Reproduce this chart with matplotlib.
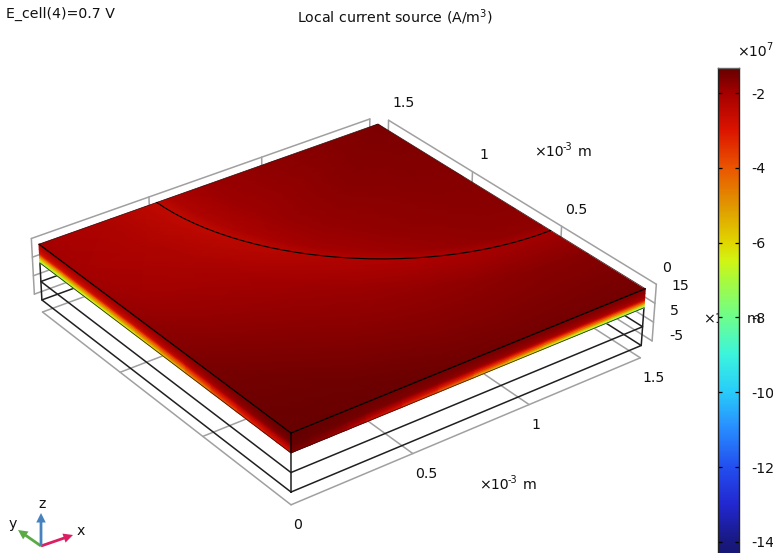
import numpy as np
import matplotlib
matplotlib.use('Agg')
import matplotlib.pyplot as plt
from matplotlib.colors import LinearSegmentedColormap, Normalize
from matplotlib.patches import Polygon, FancyArrow

plt.rcParams['font.family'] = 'DejaVu Sans'
plt.rcParams['mathtext.default'] = 'regular'
plt.rcParams['axes.unicode_minus'] = False

# ---- data -------------------------------------------------------------
title = 'Local current source (A/m$^3$)'
state_label = 'E_cell(4)=0.7 V'
x_ticks = [0, 0.5, 1, 1.5]
y_ticks = [0, 0.5, 1, 1.5]
z_levels = [15, 5, -5, -15]
tick_names = ['0', '0.5', '1', '1.5']
z_tick_names = ['15', '5', '-5']
cbar_ticks = [-2, -4, -6, -8, -10, -12, -14]
vmax, vmin = -1.33, -15.0

# colormap anchors (value in 1e7 A/m^3)
cm_vals = [-15.0, -14, -13, -12, -11, -10, -9, -8, -7, -6.5, -6, -5, -4, -3, -2, -1.33]
cm_cols = ['#14145a', '#191982', '#2328d2', '#2350f0', '#288cff', '#28cdfa', '#3cf5dc', '#6eff8c',
           '#aafa3c', '#d2f514', '#e1d700', '#e19600', '#eb5500', '#dc1400', '#a50000', '#640000']

# top face: value read by distance from the far corner + by direction
radial_r = [0, 0.5, 0.8, 0.95, 1.0, 1.05, 1.2, 1.5, 1.8, 2.2]
radial_v = [-1.58, -1.72, -1.82, -1.95, -2.2, -2.12, -1.9, -1.7, -1.45, -1.33]
radial_w = [0, 0.2, 0.4, 0.8, 1, 1, 1, 1, 1, 1]
angle_deg = [0, 10, 20, 30, 40, 50, 60, 70, 80, 90]
angle_dv = [-0.3, -0.3, -0.25, -0.15, -0.05, 0.0, 0.05, 0.12, 0.18, 0.2]

# side faces
edge_pos = [0, 0.075, 0.15, 0.225, 0.3, 0.45, 0.6, 0.75, 0.9, 1.05, 1.2, 1.35, 1.5]
left_top = [-1.35, -1.4, -1.45, -1.5, -1.55, -1.65, -1.75, -1.82, -1.9, -1.95, -2.0, -2.05, -2.1]
left_bottom = [-3.0, -3.1, -3.3, -3.5, -3.8, -4.6, -5.5, -6.2, -6.8, -7.1, -7.4, -7.6, -7.8]
right_top = [-1.33, -1.36, -1.4, -1.42, -1.45, -1.48, -1.5, -1.53, -1.55, -1.57, -1.6, -1.62, -1.65]
right_bottom = [-1.6, -1.7, -1.9, -2.2, -2.6, -3.4, -4.2, -5.3, -6.3, -7.0, -7.6, -7.9, -8.2]
depth_z = [15, 12.5, 10, 9, 8.3, 7.5, 6.5, 5.7, 5]
left_frac = [0, 0.05, 0.14, 0.28, 0.43, 0.56, 0.69, 0.85, 1]
right_frac = [0, 0.02, 0.07, 0.15, 0.28, 0.42, 0.6, 0.8, 1]

# ---- camera: (x, y, z) -> image pixels ---------------------------------
cal3d = [(0, 0, 15), (1.5, 0, 15), (1.5, 1.5, 15), (0, 1.5, 15),
         (0, 0, -15), (1.5, 0, -15), (0, 1.5, -15),
         (0, 0, 5), (1.5, 0, 5), (0, 1.5, 5)]
cal2d = [(291, 433), (646, 289), (378, 124), (39, 245),
         (291, 492), (641.5, 346), (42, 300),
         (291, 453), (643, 307), (39.7, 262)]
A = []
b = []
for (X, Y, Z), (u, v) in zip(cal3d, cal2d):
    A.append([X, Y, Z, 1, 0, 0, 0, 0, -u * X, -u * Y, -u * Z])
    A.append([0, 0, 0, 0, X, Y, Z, 1, -v * X, -v * Y, -v * Z])
    b += [u, v]
p = np.linalg.lstsq(np.array(A, float), np.array(b, float), rcond=None)[0]
P = np.append(p, 1).reshape(3, 4)


def proj(x, y, z):
    x, y, z = np.broadcast_arrays(np.asarray(x, float), np.asarray(y, float), np.asarray(z, float))
    w = P[2, 0] * x + P[2, 1] * y + P[2, 2] * z + P[2, 3]
    return ((P[0, 0] * x + P[0, 1] * y + P[0, 2] * z + P[0, 3]) / w,
            (P[1, 0] * x + P[1, 1] * y + P[1, 2] * z + P[1, 3]) / w)


fig = plt.figure(figsize=(7.73, 5.53), dpi=100)
ax = fig.add_axes([0, 0, 1, 1], zorder=1)
ax.set_xlim(0, 773)
ax.set_ylim(553, 0)
ax.axis('off')

cmap = LinearSegmentedColormap.from_list(
    'rb', [((v - vmin) / (vmax - vmin), c) for v, c in zip(cm_vals, cm_cols)], N=512)
norm = Normalize(vmin, vmax)


def line3(xs, ys, zs, **kw):
    u, v = proj(xs, ys, zs)
    ax.plot(u, v, solid_capstyle='round', **kw)


# ---- grey grid walls and floor -----------------------------------------
gap = 0.05
z_floor = -21.6
grey = dict(color='#a0a0a0', lw=1.1, zorder=1)
for t in x_ticks:
    line3([t, t], [1.5 + gap] * 2, [15, -15], **grey)
    line3([t, t], [0, 1.5], [z_floor] * 2, **grey)
for t in y_ticks:
    line3([1.5 + gap] * 2, [t, t], [15, -15], **grey)
    line3([0, 1.5], [t, t], [z_floor] * 2, **grey)
for z in z_levels:
    line3([0, 1.5], [1.5 + gap] * 2, [z, z], **grey)
    line3([1.5 + gap] * 2, [0, 1.5], [z, z], **grey)

# ---- black wire frame below the slab -----------------------------------
wire = dict(color='#202020', lw=1.1, zorder=2)
for z in z_levels[2:]:
    line3([0, 1.5, 1.5, 0, 0], [0, 0, 1.5, 1.5, 0], [z] * 5, **wire)
for cx, cy in [(0, 0), (1.5, 0), (0, 1.5)]:
    line3([cx, cx], [cy, cy], [5, -15], **wire)

# ---- slab faces ---------------------------------------------------------
rr, aa = np.meshgrid(radial_r, np.radians(angle_deg), indexing='ij')
top_vals = np.array(radial_v)[:, None] + np.outer(radial_w, angle_dv)
U, V = proj(1.5 - rr * np.cos(aa), 1.5 - rr * np.sin(aa), 15)
mesh = ax.pcolormesh(U, V, top_vals, cmap=cmap, norm=norm, shading='gouraud', zorder=3)
tu, tv = proj([0, 1.5, 1.5, 0], [0, 0, 1.5, 1.5], 15)
clip = Polygon(np.c_[tu, tv], closed=True, transform=ax.transData, fill=False, lw=0)
ax.add_patch(clip)
mesh.set_clip_path(clip)

pos = np.array(edge_pos)
zz = np.array(depth_z)
for tops, bots, fr, kind in [(left_top, left_bottom, left_frac, 'left'),
                             (right_top, right_bottom, right_frac, 'right')]:
    frac = np.array(fr)
    vals = np.array(tops)[:, None] + (np.array(bots) - np.array(tops))[:, None] * frac[None, :]
    s, h = np.meshgrid(pos, zz, indexing='ij')
    if kind == 'left':
        U, V = proj(0 * s, s, h)
    else:
        U, V = proj(s, 0 * s, h)
    ax.pcolormesh(U, V, vals, cmap=cmap, norm=norm, shading='gouraud', zorder=3)

# ---- edges on top of the faces -----------------------------------------
edge = dict(color='black', lw=0.9, zorder=4)
line3([1.5, 0, 0], [0, 0, 1.5], [15, 15, 15], **edge)
line3([0, 0], [0, 0], [15, 5], **edge)
thin = dict(color='#301010', lw=0.5, zorder=4)
line3([0, 1.5, 1.5], [1.5, 1.5, 0], [15, 15, 15], **thin)
line3([0, 0, 1.5], [1.5, 0, 0], [5, 5, 5], **thin)
arc = np.radians(np.arange(0, 91, 3))
line3(1.5 - np.cos(arc), 1.5 - np.sin(arc), 15 + 0 * arc, color='black', lw=0.8, zorder=4)

# ---- text ---------------------------------------------------------------
fs = 10.2
txt = dict(fontsize=fs, color='#111111', zorder=5)
ax.text(6, 14, state_label, ha='left', va='center', **txt)
ax.text(395, 17, title, ha='center', va='center', **txt)


def scale_label(u, v, exponent):
    ax.text(u, v, '\u00d710', ha='left', va='center', **txt)
    ax.text(u + 29, v - 5, exponent, ha='left', va='center', fontsize=7, color='#111111', zorder=5)
    ax.text(u + 44, v, 'm', ha='left', va='center', **txt)


y_offset = [(6, -16), (4, -16), (7, -17), (4, -17)]
for t, name, (du, dv) in zip(y_ticks, tick_names, y_offset):
    u, v = proj(1.5 + gap, t, 15)
    ax.text(u + du, v + dv, name, ha='left', va='center', **txt)
for t, name in zip(x_ticks, tick_names):
    u, v = proj(t, 0, z_floor)
    ax.text(u + 2, v + 20, name, ha='left', va='center', **txt)
for name, (u, v) in zip(z_tick_names, [(671, 286), (670, 311), (669, 336)]):
    ax.text(u, v, name, ha='left', va='center', **txt)
scale_label(534, 152, '-3')
scale_label(479, 485, '-3')
scale_label(703, 319, '-5')

# ---- orientation triad ---------------------------------------------------
origin = (41, 546)
for (dx, dy, col) in [(32, -11, '#dc1e64'), (-23, -16, '#5aaa46'), (0, -33, '#4682be')]:
    ax.add_patch(FancyArrow(origin[0], origin[1], dx, dy, width=2.8, head_width=9.5, head_length=9.5,
                            length_includes_head=True, color=col, lw=0, zorder=5))
ax.text(81, 531, 'x', ha='center', va='center', **txt)
ax.text(13, 524, 'y', ha='center', va='center', **txt)
ax.text(42, 504, 'z', ha='center', va='center', **txt)

# ---- colour bar -----------------------------------------------------------
px_per_unit = 37.4
bar_top = 68
bar_bot = bar_top + (vmax - vmin) * px_per_unit
cax = fig.add_axes([718 / 773, (553 - bar_bot) / 553, 20.5 / 773, (bar_bot - bar_top) / 553], zorder=2)
grad = np.linspace(vmin, vmax, 600)[:, None]
cax.imshow(grad, origin='lower', aspect='auto', cmap=cmap, norm=norm,
           extent=[0, 1, vmin, vmax], interpolation='bilinear')
cax.set_xticks([])
cax.yaxis.tick_right()
cax.set_yticks(cbar_ticks)
cax.set_yticklabels([str(t) for t in cbar_ticks], fontsize=fs, color='#111111')
cax.tick_params(axis='y', direction='in', length=3.0, width=0.9, left=True, right=True, pad=9)
for s in cax.spines.values():
    s.set_linewidth(1.0)
    s.set_color('#222222')
cax.spines['top'].set_color('#666666')
ax.text(737, 52, '\u00d710', ha='left', va='center', **txt)
ax.text(766, 47, '7', ha='left', va='center', fontsize=7, color='#111111', zorder=5)

fig.savefig('out.png', dpi=100)
